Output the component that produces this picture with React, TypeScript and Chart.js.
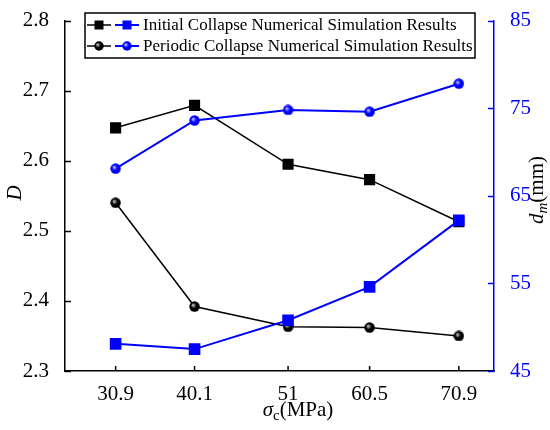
import React, { useEffect, useRef } from "react";
import { Chart, registerables } from "chart.js";

Chart.register(...registerables);

const xValues = [30.9, 40.1, 51, 60.5, 70.9];
const xTickLabels = ["30.9", "40.1", "51", "60.5", "70.9"];
const initialD = [2.647, 2.679, 2.595, 2.573, 2.513];
const periodicD = [2.54, 2.392, 2.363, 2.362, 2.35];
const initialDm = [48.1, 47.5, 50.8, 54.6, 62.2];
const periodicDm = [68.1, 73.6, 74.8, 74.6, 77.8];
const legendLabels = [
  "Initial Collapse Numerical Simulation Results",
  "Periodic Collapse Numerical Simulation Results",
];

const FONT = "'Liberation Serif', 'Times New Roman', serif";
const BLUE = "#0000ff";

function makeBall(base: string, light: string, size: number) {
  const c = document.createElement("canvas");
  c.width = size;
  c.height = size;
  const ctx = c.getContext("2d")!;
  const r = size / 2;
  const g = ctx.createRadialGradient(r - 1.5, r - 1.5, 0.5, r, r, r);
  g.addColorStop(0, light);
  g.addColorStop(0.45, base);
  g.addColorStop(1, base);
  ctx.fillStyle = g;
  ctx.beginPath();
  ctx.arc(r, r, r - 0.3, 0, Math.PI * 2);
  ctx.fill();
  return c;
}

function drawRect(ctx: CanvasRenderingContext2D, x: number, y: number, s: number, color: string) {
  ctx.fillStyle = color;
  ctx.fillRect(x - s / 2, y - s / 2, s, s);
}

export default function App() {
  const ref = useRef<HTMLCanvasElement>(null);
  useEffect(() => {
    if (!ref.current) return;
    const blackBall = makeBall("#000000", "#bbbbbb", 11);
    const blueBall = makeBall("#0000ff", "#aab4ff", 11);
    const blackBallSm = makeBall("#000000", "#bbbbbb", 10);
    const blueBallSm = makeBall("#0000ff", "#aab4ff", 10);

    const decor = {
      id: "decor",
      afterDraw(chart: any) {
        const ctx: CanvasRenderingContext2D = chart.ctx;
        const { left, right, bottom } = chart.chartArea;
        const sx = chart.scales.x;
        const sy = chart.scales.y;
        const sy1 = chart.scales.y1;
        ctx.save();
        // inward ticks
        ctx.lineWidth = 1.5;
        ctx.strokeStyle = "#000";
        sy.ticks.forEach((t: any) => {
          const p = Math.round(sy.getPixelForValue(t.value)) + 0.5;
          ctx.beginPath();
          ctx.moveTo(left, p);
          ctx.lineTo(left + 6, p);
          ctx.stroke();
        });
        sx.ticks.forEach((t: any) => {
          const p = sx.getPixelForValue(t.value);
          ctx.beginPath();
          ctx.moveTo(p, bottom);
          ctx.lineTo(p, bottom - 5);
          ctx.stroke();
        });
        ctx.strokeStyle = BLUE;
        sy1.ticks.forEach((t: any) => {
          const p = Math.round(sy1.getPixelForValue(t.value)) + 0.5;
          ctx.beginPath();
          ctx.moveTo(right, p);
          ctx.lineTo(right - 6, p);
          ctx.stroke();
        });

        // axis titles
        ctx.fillStyle = "#000";
        ctx.textAlign = "center";
        ctx.textBaseline = "middle";
        ctx.save();
        ctx.translate(15, 193);
        ctx.rotate(-Math.PI / 2);
        ctx.font = `italic 21px ${FONT}`;
        ctx.fillText("D", 0, 0);
        ctx.restore();

        // right title d_m(mm)
        ctx.save();
        ctx.translate(536, 190);
        ctx.rotate(-Math.PI / 2);
        ctx.textAlign = "left";
        ctx.textBaseline = "alphabetic";
        const parts = [
          { t: "d", f: `italic 21px ${FONT}`, dy: 0 },
          { t: "m", f: `italic 15px ${FONT}`, dy: 4 },
          { t: "(mm)", f: `21px ${FONT}`, dy: 0 },
        ];
        let w = 0;
        parts.forEach((p) => {
          ctx.font = p.f;
          w += ctx.measureText(p.t).width;
        });
        let xx = -w / 2;
        parts.forEach((p) => {
          ctx.font = p.f;
          ctx.fillText(p.t, xx, 7 + p.dy);
          xx += ctx.measureText(p.t).width;
        });
        ctx.restore();

        // bottom title σc(MPa)
        ctx.save();
        ctx.textAlign = "left";
        ctx.textBaseline = "alphabetic";
        const bparts = [
          { t: "σ", f: `italic 21px ${FONT}`, dy: 0 },
          { t: "c", f: `15px ${FONT}`, dy: 4 },
          { t: "(MPa)", f: `21px ${FONT}`, dy: 0 },
        ];
        let bw = 0;
        bparts.forEach((p) => {
          ctx.font = p.f;
          bw += ctx.measureText(p.t).width;
        });
        let bx = 298 - bw / 2;
        bparts.forEach((p) => {
          ctx.font = p.f;
          ctx.fillText(p.t, bx, 416 + p.dy);
          bx += ctx.measureText(p.t).width;
        });
        ctx.restore();

        // legend
        const lx = 85, ly = 13, lw = 390, lh = 45;
        ctx.fillStyle = "#fff";
        ctx.fillRect(lx, ly, lw, lh);
        ctx.strokeStyle = "#000";
        ctx.lineWidth = 1.5;
        ctx.strokeRect(lx, ly, lw, lh);
        const rows = [25, 46];
        rows.forEach((ry, i) => {
          ctx.lineWidth = 1.5;
          ctx.strokeStyle = "#000";
          ctx.beginPath();
          ctx.moveTo(87, ry);
          ctx.lineTo(111, ry);
          ctx.stroke();
          ctx.strokeStyle = BLUE;
          ctx.lineWidth = 2;
          ctx.beginPath();
          ctx.moveTo(115, ry);
          ctx.lineTo(139, ry);
          ctx.stroke();
          if (i === 0) {
            drawRect(ctx, 99, ry, 9, "#000");
            drawRect(ctx, 127, ry, 9, BLUE);
          } else {
            ctx.drawImage(blackBallSm, 94, ry - 5);
            ctx.drawImage(blueBallSm, 122, ry - 5);
          }
          ctx.fillStyle = "#000";
          ctx.font = `17px ${FONT}`;
          ctx.textAlign = "left";
          ctx.textBaseline = "middle";
          ctx.fillText(legendLabels[i], 143, ry + 1);
        });
        ctx.restore();
      },
    };

    const chart = new Chart(ref.current, {
      type: "line",
      data: {
        datasets: [
          {
            label: legendLabels[0] + " D",
            data: xValues.map((x, i) => ({ x, y: initialD[i] })),
            yAxisID: "y",
            borderColor: "#000",
            backgroundColor: "#000",
            borderWidth: 1.5,
            pointStyle: "rect",
            pointRadius: 6.8,
            order: 3,
          },
          {
            label: legendLabels[1] + " D",
            data: xValues.map((x, i) => ({ x, y: periodicD[i] })),
            yAxisID: "y",
            borderColor: "#000",
            backgroundColor: "#000",
            borderWidth: 1.5,
            pointStyle: blackBall as any,
            pointRadius: 5.5,
            order: 4,
          },
          {
            label: legendLabels[0] + " dm",
            data: xValues.map((x, i) => ({ x, y: initialDm[i] })),
            yAxisID: "y1",
            borderColor: BLUE,
            backgroundColor: BLUE,
            borderWidth: 2,
            pointStyle: "rect",
            pointRadius: 6.8,
            order: 1,
          },
          {
            label: legendLabels[1] + " dm",
            data: xValues.map((x, i) => ({ x, y: periodicDm[i] })),
            yAxisID: "y1",
            borderColor: BLUE,
            backgroundColor: BLUE,
            borderWidth: 2,
            pointStyle: blueBall as any,
            pointRadius: 5.5,
            order: 2,
          },
        ],
      },
      options: {
        responsive: false,
        animation: false,
        layout: { padding: { top: 15, left: 0, right: 0, bottom: 0 } },
        plugins: { legend: { display: false }, tooltip: { enabled: false } },
        scales: {
          x: {
            type: "linear",
            min: 25,
            max: 75,
            afterBuildTicks: (s: any) => {
              s.ticks = xValues.map((v) => ({ value: v }));
            },
            afterFit: (s: any) => {
              s.height = 59;
            },
            grid: { display: false },
            border: { display: true, color: "#000", width: 1.5 },
            ticks: {
              color: "#000",
              font: { family: FONT, size: 21 },
              padding: 3,
              maxRotation: 0,
              autoSkip: false,
              callback: (v: any) => {
                const i = xValues.indexOf(Number(v));
                return i >= 0 ? xTickLabels[i] : "";
              },
            },
          },
          y: {
            position: "left",
            min: 2.3,
            max: 2.8,
            afterFit: (s: any) => {
              s.width = 65;
            },
            grid: { display: false },
            border: { display: true, color: "#000", width: 1.5 },
            ticks: {
              stepSize: 0.1,
              color: "#000",
              font: { family: FONT, size: 21 },
              padding: 8,
              callback: (v: any) => Number(v).toFixed(1),
            },
          },
          y1: {
            position: "right",
            min: 45,
            max: 85,
            afterFit: (s: any) => {
              s.width = 56;
            },
            grid: { display: false },
            border: { display: true, color: BLUE, width: 1.5 },
            ticks: {
              stepSize: 10,
              color: BLUE,
              font: { family: FONT, size: 21 },
              padding: 8,
            },
          },
        },
      },
      plugins: [decor],
    });
    return () => chart.destroy();
  }, []);

  return (
    <div style={{ position: "absolute", left: 0, top: 0, width: 550, height: 430, background: "#fff" }}>
      <canvas ref={ref} width={550} height={430} />
    </div>
  );
}
